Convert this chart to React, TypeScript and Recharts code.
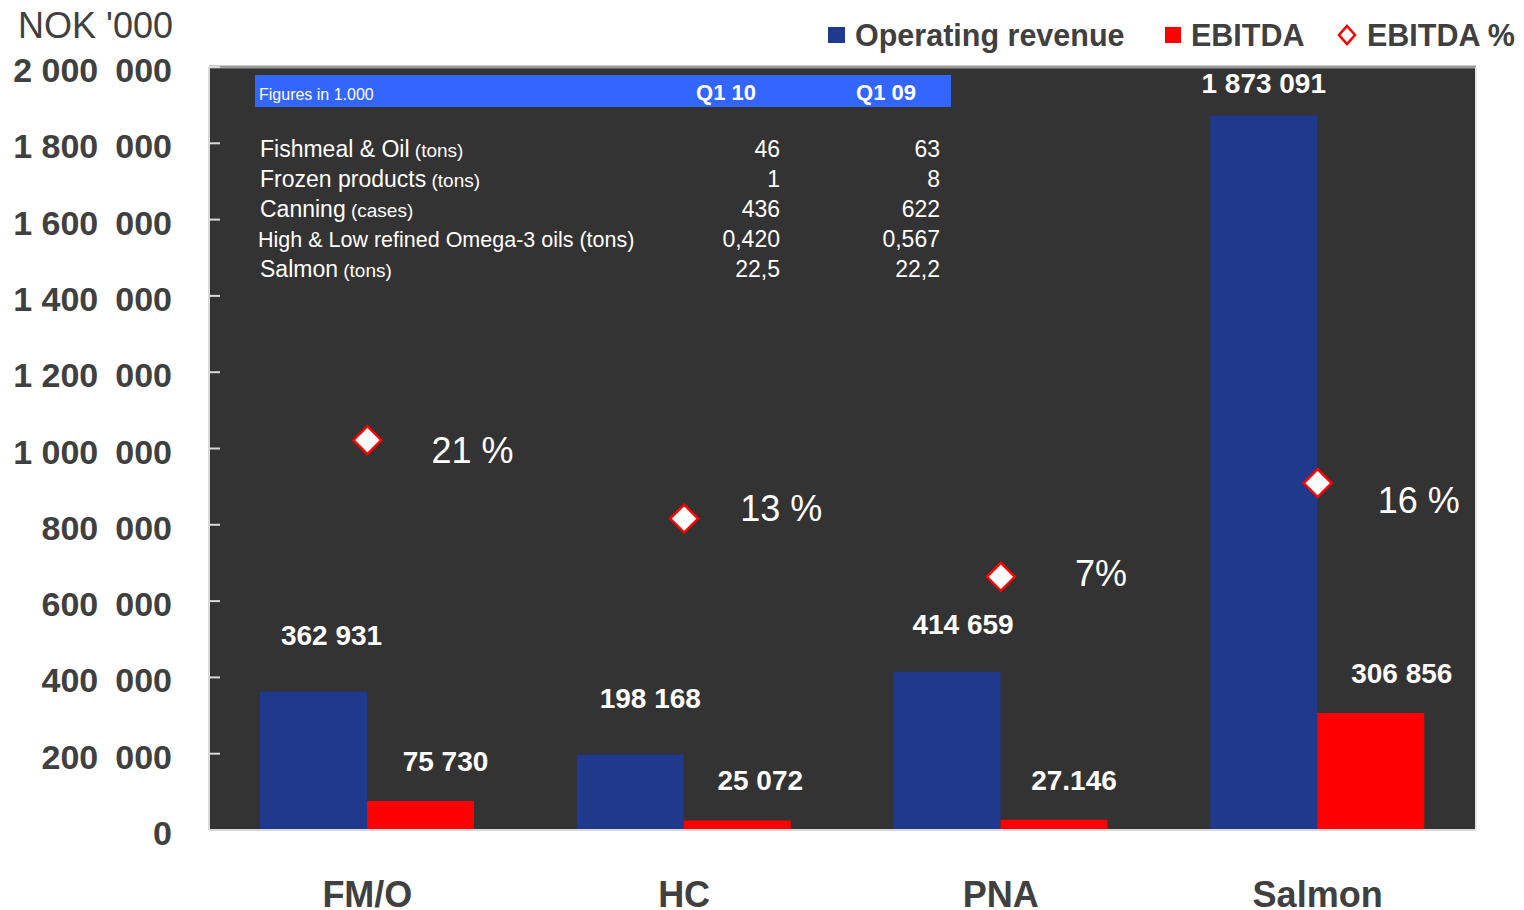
import React from 'react';
import { ComposedChart, Bar, Line, XAxis, YAxis, LabelList, ReferenceLine, CartesianGrid } from 'recharts';

const categories = ['FM/O', 'HC', 'PNA', 'Salmon'];
const operatingRevenue = [362931, 198168, 414659, 1873091];
const ebitda = [75730, 25072, 27146, 306856];
const ebitdaPct = [0.2087, 0.1265, 0.0655, 0.1638];
const revenueLabels = ['362 931', '198 168', '414 659', '1 873 091'];
const ebitdaLabels = ['75 730', '25 072', '27.146', '306 856'];
const pctLabels = ['21 %', '13 %', '7%', '16 %'];
const leftTicks = [0, 200000, 400000, 600000, 800000, 1000000, 1200000, 1400000, 1600000, 1800000, 2000000];
const rightTicks = [-0.2, -0.1, 0, 0.1, 0.2, 0.3, 0.4, 0.5, 0.6];
const boundaryTicks = [1, 2, 3];
const tableHeader = ['Figures in 1.000', 'Q1 10', 'Q1 09'];
const tableLabels = ['Fishmeal & Oil', 'Frozen products', 'Canning', 'High & Low refined Omega-3 oils (tons)', 'Salmon'];
const tableUnits = ['(tons)', '(tons)', '(cases)', '', '(tons)'];
const tableQ110 = ['46', '1', '436', '0,420', '22,5'];
const tableQ109 = ['63', '8', '622', '0,567', '22,2'];
const legendNames = ['Operating revenue', 'EBITDA', 'EBITDA %'];

const BLUE = '#1F398C';
const RED = '#FF0000';
const TXT = '#404040';
const FONT = '"Liberation Sans", Arial, sans-serif';

const data = categories.map((c, i) => ({
  name: c,
  rev: operatingRevenue[i],
  ebitda: ebitda[i],
  pct: ebitdaPct[i],
}));

const fmtTick = (v: number) => {
  if (v === 0) return '0';
  const s = String(v);
  const groups: string[] = [];
  let rest = s;
  while (rest.length > 3) {
    groups.unshift(rest.slice(-3));
    rest = rest.slice(0, -3);
  }
  groups.unshift(rest);
  if (groups.length === 3) return `${groups[0]} ${groups[1]}\u2002${groups[2]}`;
  return groups.join('\u2002');
};

const Diamond = (props: any) => {
  const { cx, cy } = props;
  if (cx == null || cy == null) return null;
  const r = 14;
  return (
    <polygon
      points={`${cx},${cy - r} ${cx + r},${cy} ${cx},${cy + r} ${cx - r},${cy}`}
      fill="#ffffff"
      stroke={RED}
      strokeWidth={2.5}
    />
  );
};

const revDx = [18, 20, 16, 0];
const revDy = [47, 46, 38, 22];
const RevLabel = (props: any) => {
  const { x, y, width, index } = props;
  return (
    <text x={x + width / 2 + revDx[index]} y={y - revDy[index]} textAnchor="middle" fill="#ffffff" fontSize={28} fontWeight="bold" fontFamily={FONT}>
      {revenueLabels[index]}
    </text>
  );
};

const ebDx = [25, 23, 20, 31];
const EbLabel = (props: any) => {
  const { x, y, width, index } = props;
  return (
    <text x={x + width / 2 + ebDx[index]} y={y - 30} textAnchor="middle" fill="#ffffff" fontSize={28} fontWeight="bold" fontFamily={FONT}>
      {ebitdaLabels[index]}
    </text>
  );
};

const pctDx = [64, 56, 74, 60];
const pctDy = [10, -11, -4, 17];
const PctLabel = (props: any) => {
  const { x, y, index } = props;
  return (
    <text x={x + pctDx[index]} y={y + pctDy[index] + 13} textAnchor="start" fill="#ffffff" fontSize={36} fontFamily={FONT}>
      {pctLabels[index]}
    </text>
  );
};

export default function App() {
  return (
    <div style={{ position: 'relative', width: 1508, height: 902, fontFamily: FONT }}>
      <ComposedChart
        width={1508}
        height={902}
        data={data}
        margin={{ top: 59, right: 30, left: 0, bottom: 0 }}
        barGap={0}
      >
        <CartesianGrid horizontal={false} vertical={false} fill="#333333" fillOpacity={1} stroke="none" />
        <XAxis
          xAxisId="b"
          type="number"
          domain={[0, 4]}
          ticks={boundaryTicks}
          tick={false}
          tickSize={-10}
          tickLine={{ stroke: '#d9d9d9', strokeWidth: 2 }}
          axisLine={false}
          height={0}
        />
        <XAxis
          dataKey="name"
          height={80}
          tickLine={false}
          axisLine={{ stroke: '#d9d9d9', strokeWidth: 2 }}
          tickMargin={45}
          tick={{ fill: TXT, fontSize: 36, fontWeight: 'bold', fontFamily: FONT }}
        />
        <YAxis
          yAxisId="left"
          width={201}
          domain={[0, 2000000]}
          ticks={leftTicks}
          interval={0}
          tickFormatter={fmtTick}
          tickSize={-11}
          tickMargin={48}
          tickLine={{ stroke: '#d9d9d9', strokeWidth: 2 }}
          axisLine={{ stroke: '#d9d9d9', strokeWidth: 2 }}
          tick={{ fill: TXT, fontSize: 34, fontWeight: 'bold', fontFamily: FONT, dy: 3 }}
        />
        <YAxis
          yAxisId="right"
          orientation="right"
          width={10}
          domain={[-0.2, 0.6]}
          ticks={rightTicks}
          interval={0}
          tick={false}
          tickSize={-8}
          tickLine={{ stroke: '#e6e6e6', strokeWidth: 2 }}
          axisLine={{ stroke: '#e6e6e6', strokeWidth: 2 }}
        />
        <ReferenceLine yAxisId="left" y={2000000} stroke="#9a9a9a" strokeWidth={3} />
        <Bar yAxisId="left" dataKey="rev" fill={BLUE} barSize={107} isAnimationActive={false}>
          <LabelList dataKey="rev" content={RevLabel} />
        </Bar>
        <Bar yAxisId="left" dataKey="ebitda" fill={RED} barSize={107} isAnimationActive={false}>
          <LabelList dataKey="ebitda" content={EbLabel} />
        </Bar>
        <Line
          yAxisId="right"
          dataKey="pct"
          stroke="none"
          dot={<Diamond />}
          activeDot={false}
          isAnimationActive={false}
        >
          <LabelList dataKey="pct" content={PctLabel} />
        </Line>
      </ComposedChart>
      <svg
        width={1508}
        height={902}
        style={{ position: 'absolute', left: 0, top: 0, pointerEvents: 'none' }}
        fontFamily={FONT}
      >
        <text x={10} y={30} fontSize={36} fill={TXT}>NOK '000</text>
        {/* legend */}
        <rect x={820} y={19} width={17} height={16} fill={BLUE} />
        <text x={847} y={38} fontSize={30.5} fontWeight="bold" fill={TXT}>{legendNames[0]}</text>
        <rect x={1157} y={19} width={16} height={16} fill={RED} />
        <text x={1183} y={38} fontSize={30.5} fontWeight="bold" fill={TXT}>{legendNames[1]}</text>
        <polygon points="1339,18 1347,27 1339,36 1331,27" fill="none" stroke={RED} strokeWidth={2.5} />
        <text x={1359} y={38} fontSize={30.5} fontWeight="bold" fill={TXT}>{legendNames[2]}</text>
        {/* table */}
        <rect x={247} y={67} width={696} height={32} fill="#3366FF" />
        <text x={251} y={92} fontSize={16} fill="#ffffff">{tableHeader[0]}</text>
        <text x={718} y={92} fontSize={22} fontWeight="bold" fill="#ffffff" textAnchor="middle">{tableHeader[1]}</text>
        <text x={878} y={92} fontSize={22} fontWeight="bold" fill="#ffffff" textAnchor="middle">{tableHeader[2]}</text>
        {tableLabels.map((l, i) => (
          <g key={l}>
            <text x={i === 3 ? 250 : 252} y={149 + i * 30} fontSize={i === 3 ? 21.5 : 23} fill="#ffffff">
              {l}
              {tableUnits[i] ? <tspan fontSize={19}>{' ' + tableUnits[i]}</tspan> : null}
            </text>
            <text x={772} y={149 + i * 30} fontSize={23} fill="#ffffff" textAnchor="end">{tableQ110[i]}</text>
            <text x={932} y={149 + i * 30} fontSize={23} fill="#ffffff" textAnchor="end">{tableQ109[i]}</text>
          </g>
        ))}
      </svg>
    </div>
  );
}
